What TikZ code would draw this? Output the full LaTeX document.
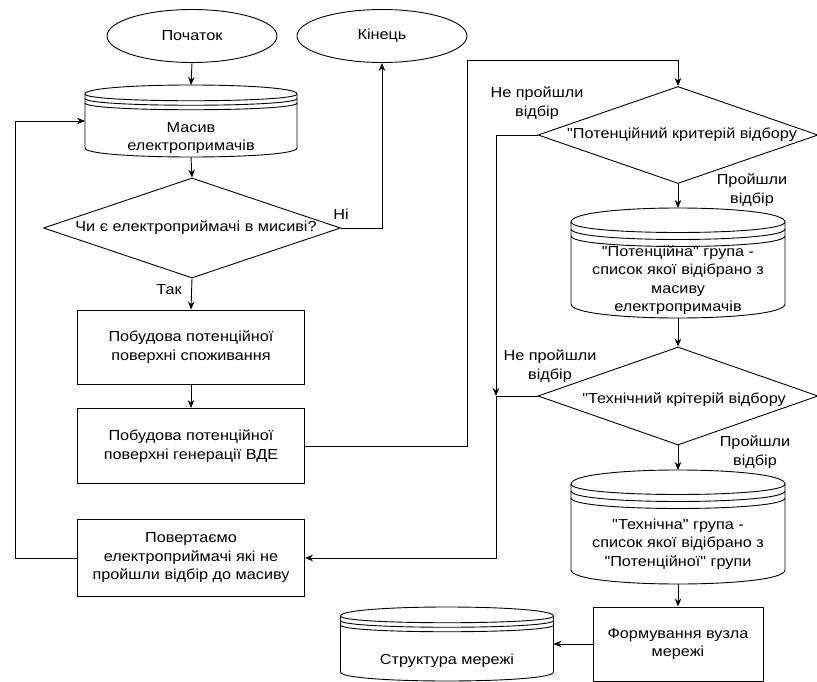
\documentclass[tikz,border=0pt]{standalone}
\usepackage{fontspec}
\setmainfont[FakeStretch=1.12, Ligatures=TeXOff]{Liberation Sans}
\usetikzlibrary{shapes.geometric,arrows.meta}

\newcommand{\drawstore}[6]{%
  \pgfmathsetmacro{\stx}{#2-#4/2}%
  \pgfmathsetmacro{\sty}{#3-#5/2}%
  \pgfmathsetmacro{\enx}{#2+#4/2}%
  \pgfmathsetmacro{\eny}{#3+#5/2}%
  \pgfmathsetmacro{\cyl}{round(#5/8)}%
  \node[store, minimum width=#4pt, minimum height=#5pt] (#1) at (#2,#3) {};
  \draw (\stx,\sty+\cyl) .. controls (\stx,\sty-\cyl/3) and (\enx,\sty-\cyl/3) .. (\enx,\sty+\cyl)
    -- (\enx,\eny-\cyl) .. controls (\enx,\eny+\cyl/3) and (\stx,\eny+\cyl/3) .. (\stx,\eny-\cyl) -- cycle;
  \foreach \k in {0,0.5,1}
    \draw (\stx,\sty+\cyl+\k*\cyl) .. controls (\stx,\sty+2*\cyl+\k*\cyl) and (\enx,\sty+2*\cyl+\k*\cyl) .. (\enx,\sty+\cyl+\k*\cyl);
  \node (#1-text) at (#2,#3+17) {#6};
}

\begin{document}
\begin{tikzpicture}[x=1pt, y=-1pt, line width=0.9pt,
  every node/.style={font=\fontsize{14.5}{18.5}\selectfont, align=center},
  box/.style={draw, rectangle, inner sep=0pt},
  term/.style={draw, ellipse, inner sep=0pt},
  decision/.style={draw, diamond, inner sep=0pt},
  store/.style={inner sep=0pt, outer sep=0pt},
  flow/.style={-{Stealth[length=8pt, width=6.5pt]}}]
\useasboundingbox (0,0) rectangle (817,682);
\node[term, minimum width=170pt, minimum height=53pt] (start) at (192,36) {Початок};
\node[term, minimum width=170pt, minimum height=53pt] (end) at (382,36) {Кінець};
\drawstore{array}{191}{121}{212}{72}{Масив\\електропримачів}
\node[decision, minimum width=297pt, minimum height=100pt] (check) at (192,228) {};
\node (check-text) at (196,228) {Чи є електроприймачі в мисиві?};
\node[box, minimum width=227pt, minimum height=74pt] (consume) at (191,347) {Побудова потенційної\\поверхні споживання};
\node[box, minimum width=227pt, minimum height=75pt] (generate) at (191,446) {Побудова потенційної\\поверхні генерації ВДЕ};
\node[box, minimum width=227pt, minimum height=77pt] (return) at (191,558) {Повертаємо\\електроприймачі які не\\пройшли відбір до масиву};
\node[decision, minimum width=280pt, minimum height=97pt] (potential) at (678,135) {};
\node (potential-text) at (682,135) {"Потенційний критерій відбору};
\drawstore{potgroup}{678}{263}{214}{110}{"Потенційна" група -\\список якої відібрано з\\масиву\\електропримачів}
\node[decision, minimum width=280pt, minimum height=98pt] (technical) at (678,396) {};
\node (technical-text) at (684,400) {"Технічний крітерій відбору};
\drawstore{techgroup}{678}{527}{214}{114}{"Технічна" група -\\список якої відібрано з\\"Потенційної" групи}
\node[box, minimum width=170pt, minimum height=74pt] (form) at (678,644) {Формування вузла\\мережі};
\drawstore{network}{447}{644}{213}{74}{Структура мережі}
\node (lbl-no) at (341,214) {Ні};
\node (lbl-yes) at (169,290) {Так};
\node (lbl-fail1) at (537,103) {Не пройшли\\відбір};
\node (lbl-pass1) at (752,190) {Пройшли\\відбір};
\node (lbl-fail2) at (550,366) {Не пройшли\\відбір};
\node (lbl-pass2) at (755,452) {Пройшли\\відбір};
\coordinate (up) at (467,60);
\coordinate (merge) at (496,396);
\coordinate (back) at (15,121);
\draw[flow] (start.south) -- (array.north);
\draw[flow] (array.south) -- (check.north);
\draw[flow] (check.east) -| (end.south);
\draw[flow] (check.south) -- (consume.north);
\draw[flow] (consume.south) -- (generate.north);
\draw[flow] (generate.east) -| (up) -| (potential.north);
\draw[flow] (potential.south) -- (potgroup.north);
\draw[flow] (potgroup.south) -- (technical.north);
\draw[flow] (technical.south) -- (techgroup.north);
\draw[flow] (techgroup.south) -- (form.north);
\draw[flow] (form.west) -- (network.east);
\draw[flow] (potential.west) -| (merge);
\draw (technical.west) -- (merge);
\draw[flow] (merge) |- (return.east);
\draw[flow] (return.west) -| (back) -- (array.west);
\end{tikzpicture}
\end{document}
